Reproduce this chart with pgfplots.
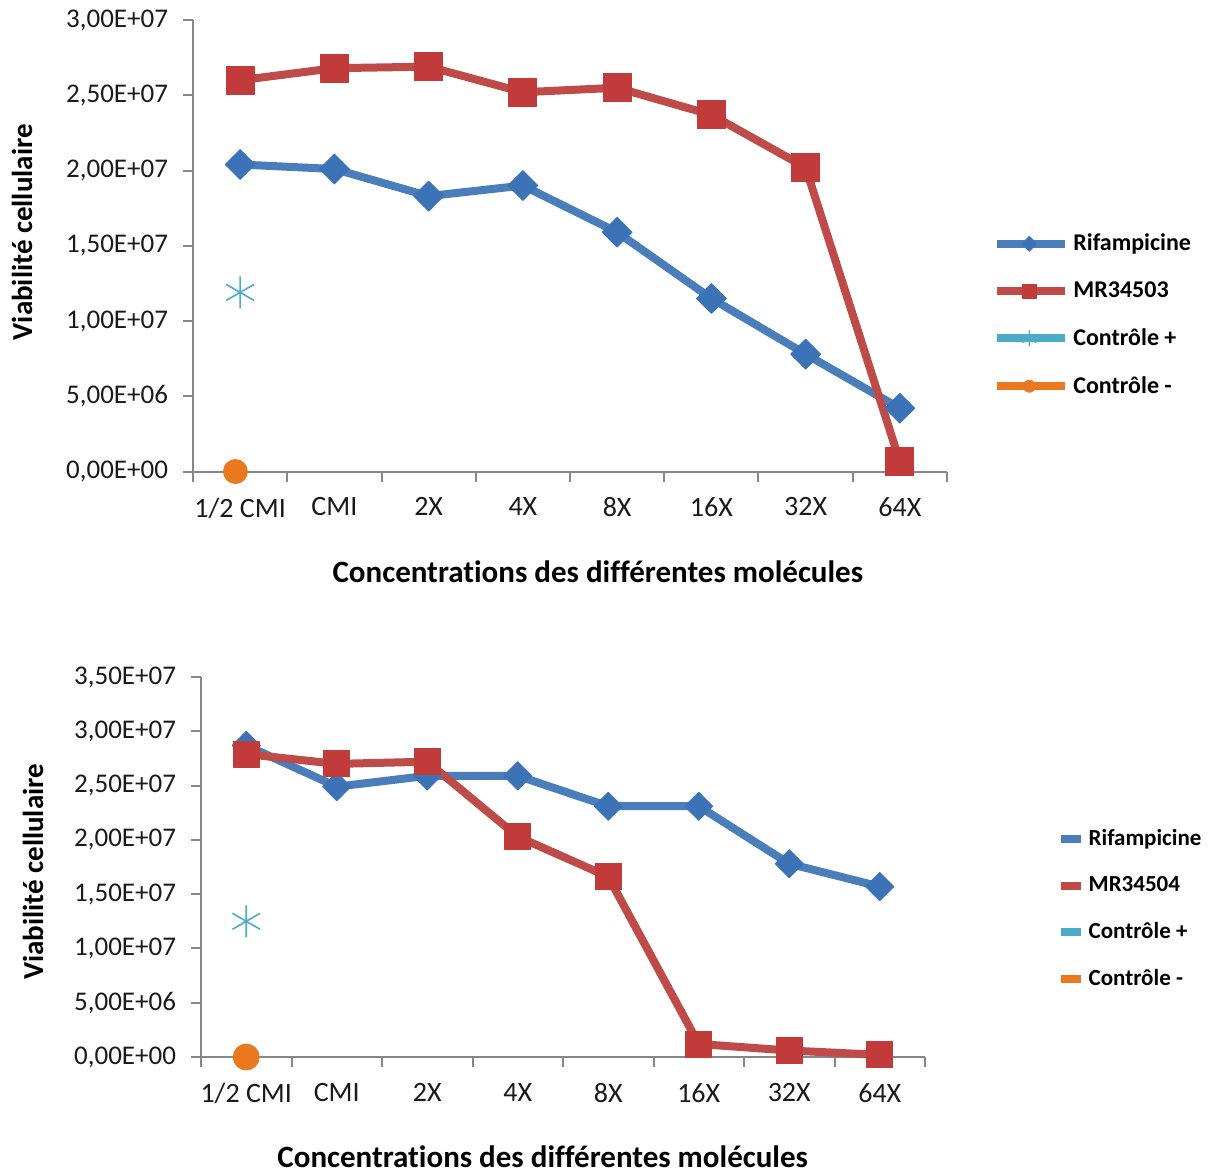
\documentclass[border=0pt]{standalone}
\usepackage{pgfplots}
\pgfplotsset{compat=1.18}
\usepackage{fontspec}
\setmainfont{Carlito}[Ligatures=NoCommon]
\definecolor{rifblue}{HTML}{4A7EBB}
\definecolor{rifmark}{HTML}{3C72B6}
\definecolor{mrred}{HTML}{BE4B48}
\definecolor{mrmark}{HTML}{C23B3B}
\definecolor{ctlplus}{HTML}{4BACC6}
\definecolor{ctlminus}{HTML}{E9781E}
\definecolor{axgray}{HTML}{878787}
\definecolor{txt}{HTML}{1A1A1A}
\pgfplotsset{
  common/.style={
    scale only axis, clip=false,
    axis lines*=left,
    axis line style={axgray, line width=1pt},
    xmin=-0.5, xmax=7.5,
    xtick={0,1,2,3,4,5,6,7},
    xticklabels={1/2 CMI, CMI, 2X, 4X, 8X, 16X, 32X, 64X},
    major x tick style={draw=none},
    minor xtick={-0.5,0.5,1.5,2.5,3.5,4.5,5.5,6.5,7.5},
    minor x tick style={axgray, line width=1pt},
    minor tick length=5pt,
    major tick length=5pt,
    tick align=outside,
    major y tick style={axgray, line width=1pt},
    scaled y ticks=false,
    xticklabel style={font=\fontsize{14}{16}\selectfont, text=txt, yshift=-4.5pt},
    yticklabel style={font=\fontsize{13.5}{15}\selectfont, text=txt, xshift=-4pt},
    xlabel={Concentrations des différentes molécules},
    ylabel={Viabilité cellulaire},
    xlabel style={font=\bfseries\fontsize{15.5}{17}\selectfont, text=black, anchor=center},
    ylabel style={font=\bfseries\fontsize{14.5}{16}\selectfont, text=black, anchor=center},
    legend cell align=left,
  },
  rif/.style={rifblue, line width=4pt, line join=round, mark=square*,
    mark size=5.3pt, mark options={solid, rotate=45, fill=rifmark, draw=rifmark, line width=0.4pt}},
  mr/.style={mrred, line width=4pt, line join=round, mark=square*,
    mark size=7pt, mark options={solid, fill=mrmark, draw=mrmark, line width=0.4pt}},
  cplus/.style={ctlplus, line width=4pt, mark=asterisk,
    mark size=8pt, mark options={solid, draw=ctlplus, line width=0.8pt}},
  cminus/.style={ctlminus, line width=4pt, mark=*,
    mark size=6pt, mark options={solid, fill=ctlminus, draw=ctlminus, line width=0.4pt}},
}
\begin{document}
\begin{tikzpicture}
\useasboundingbox (0,0) rectangle (604pt,-587pt);
% ---------------- top chart ----------------
\begin{axis}[common,
  at={(96.5pt,-235.75pt)}, anchor=south west,
  width=377pt, height=225.75pt,
  ymin=0, ymax=30000000,
  ytick={0,5000000,10000000,15000000,20000000,25000000,30000000},
  yticklabels={{0,00E+00},{5,00E+06},{1,00E+07},{1,50E+07},{2,00E+07},{2,50E+07},{3,00E+07}},
  xlabel style={at={(axis description cs:0.537,-0.2226)}},
  ylabel style={at={(axis description cs:-0.2268,0.530)}},
  legend style={at={(axis description cs:1.053,0.3466)}, anchor=west,
    draw=none, fill=none, row sep=10pt,
    font=\bfseries\fontsize{12}{14}\selectfont},
  legend image code/.code={
    \path (0pt,0pt) -- (34pt,0pt);
    \draw[#1, line width=4pt, line cap=round] (2pt,0pt) -- (30pt,0pt);
    \draw[#1, /tikz/every mark/.append style={scale=0.5}] plot coordinates {(16pt,0pt)};
  },
]
\addplot[rif] coordinates {(0,2.04e7) (1,2.01e7) (2,1.83e7) (3,1.90e7) (4,1.59e7) (5,1.15e7) (6,0.78e7) (7,0.42e7)};
\addlegendentry{Rifampicine}
\addplot[mr] coordinates {(0,2.60e7) (1,2.68e7) (2,2.69e7) (3,2.52e7) (4,2.55e7) (5,2.37e7) (6,2.02e7) (7,0.065e7)};
\addlegendentry{MR34503}
\addplot[cplus] coordinates {(0,1.19e7)};
\addlegendentry{Contrôle +}
\addplot[cminus] coordinates {(-0.05,0)};
\addlegendentry{Contrôle -}
\end{axis}
% ---------------- bottom chart ----------------
\begin{axis}[common,
  at={(100.5pt,-528.5pt)}, anchor=south west,
  width=362pt, height=190pt,
  ymin=0, ymax=35000000,
  ytick={0,5000000,10000000,15000000,20000000,25000000,30000000,35000000},
  yticklabels={{0,00E+00},{5,00E+06},{1,00E+07},{1,50E+07},{2,00E+07},{2,50E+07},{3,00E+07},{3,50E+07}},
  xlabel style={at={(axis description cs:0.472,-0.262)}},
  ylabel style={at={(axis description cs:-0.232,0.487)}},
  legend style={at={(axis description cs:1.173,0.389)}, anchor=west,
    draw=none, fill=none, row sep=10pt,
    font=\bfseries\fontsize{11.5}{13}\selectfont},
  legend image code/.code={
    \path (0pt,0pt) -- (10pt,0pt);
    \draw[#1, line width=3.5pt, line cap=round] (1.75pt,0pt) -- (7.75pt,0pt);
  },
]
\addplot[rif, mark size=5pt] coordinates {(0,2.87e7) (1,2.49e7) (2,2.59e7) (3,2.59e7) (4,2.31e7) (5,2.31e7) (6,1.78e7) (7,1.57e7)};
\addlegendentry{Rifampicine}
\addplot[mr, mark size=6.5pt] coordinates {(0,2.79e7) (1,2.70e7) (2,2.72e7) (3,2.03e7) (4,1.66e7) (5,0.12e7) (6,0.06e7) (7,0.02e7)};
\addlegendentry{MR34504}
\addplot[cplus] coordinates {(0,1.25e7)};
\addlegendentry{Contrôle +}
\addplot[cminus, mark size=6.5pt] coordinates {(0,0)};
\addlegendentry{Contrôle -}
\end{axis}
\end{tikzpicture}
\end{document}
